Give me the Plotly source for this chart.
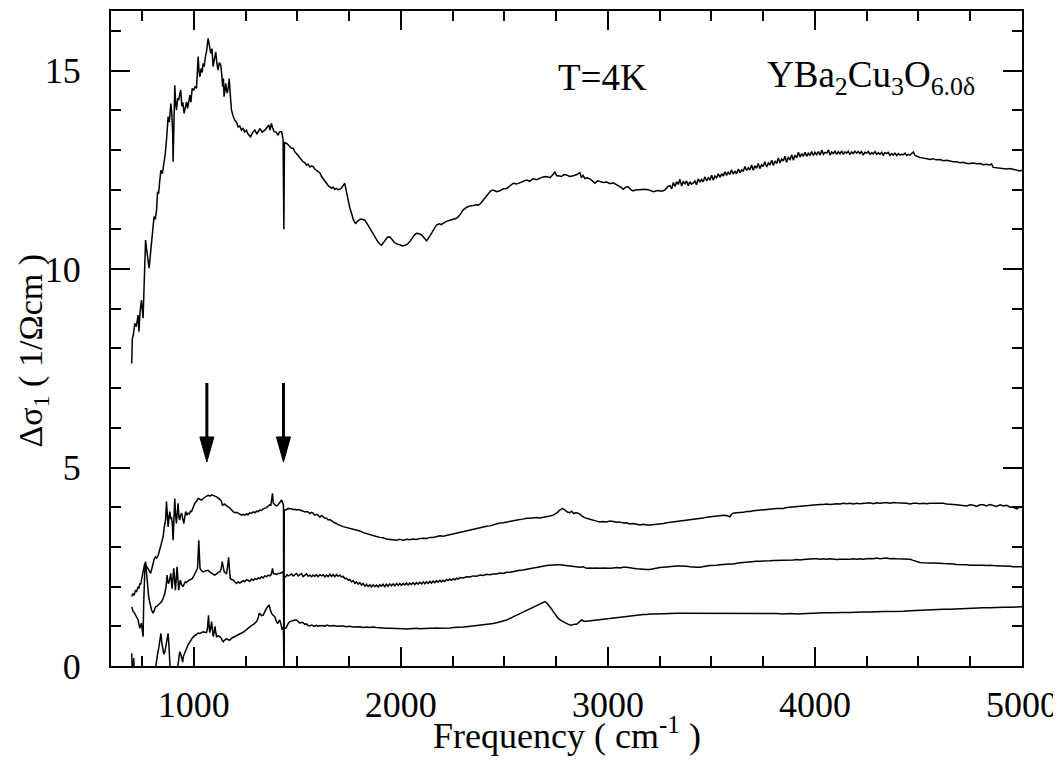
import plotly.graph_objects as go

# ---------------- data (frequency cm^-1, delta sigma_1 1/Ohm cm) ----------------
top_pts = [
(700,7.62),(703,8.25),(708,8.35),(715,8.63),(722,8.55),(731,8.84),(735,8.42),(740,8.9),(747,9.22),(751,9.0),
(755,8.76),(760,9.6),(767,10.73),(772,10.5),(776,10.31),(780,10.2),(784,10.02),(790,10.35),(796,10.65),(802,10.9),
(808,11.32),(814,11.25),(820,11.49),(825,11.95),(830,11.9),(835,12.2),(841,12.49),(848,12.4),(857,12.66),(862,12.9),
(868,13.25),(872,13.5),(876,13.84),(882,13.7),(889,14.17),(894,13.9),(898,13.4),(900,12.7),(903,13.6),(908,14.63),
(912,14.2),(916,14.0),(922,14.3),(928,14.26),(932,14.4),(937,14.51),(942,14.1),(947,14.2),(953,13.92),(959,14.1),
(965,14.21),(970,14.05),(976,14.3),(981,14.38),(986,14.2),(992,14.55),(1000,14.5),(1006,14.6),(1013,14.55),(1018,14.9),
(1021,15.35),(1025,15.0),(1029,14.84),(1035,15.05),(1040,14.95),(1045,15.18),(1050,15.1),(1056,15.35),(1062,15.5),(1069,15.81),
(1075,15.6),(1082,15.43),(1088,15.55),(1093,15.1),(1100,15.3),(1106,15.47),(1111,15.2),(1117,15.01),(1123,15.2),(1130,15.14),
(1135,14.9),(1139,14.59),(1143,14.8),(1146,14.34),(1150,14.5),(1154,14.68),(1158,14.5),(1162,14.43),(1167,14.6),(1171,14.8),
(1176,14.4),(1182,14.0),(1190,13.85),(1198,13.75),(1206,13.7),(1214,13.58),(1222,13.6),(1230,13.5),(1238,13.54),(1246,13.45),
(1254,13.5),(1262,13.4),(1274,13.33),(1285,13.45),(1295,13.5),(1305,13.4),(1319,13.54),(1330,13.45),(1343,13.5),(1352,13.55),
(1362,13.63),(1368,13.5),(1375,13.67),(1381,13.55),(1388,13.46),(1397,13.45),(1407,13.38),(1415,13.46),(1424,13.46),(1431,13.28),
(1435,11.0),(1438,13.2),(1443,13.17),(1448,13.17),(1456,13.13),(1464,13.1),(1472,13.04),(1480,13.04),(1488,12.95),(1496,12.91),
(1504,12.85),(1512,12.79),(1520,12.75),(1528,12.7),(1536,12.68),(1544,12.62),(1552,12.64),(1560,12.57),(1568,12.6),(1576,12.58),
(1584,12.52),(1593,12.49),(1600,12.45),(1609,12.42),(1617,12.33),(1625,12.28),(1633,12.22),(1641,12.16),(1649,12.1),(1657,12.06),
(1665,12.04),(1673,12.06),(1681,12.01),(1689,12.03),(1697,12.0),(1705,12.01),(1713,12.04),(1721,12.1),(1729,12.16),(1737,11.95),
(1745,11.74),(1753,11.55),(1762,11.4),(1770,11.25),(1778,11.17),(1783,11.15),(1790,11.2),(1796,11.24),(1802,11.25),(1810,11.26),
(1818,11.24),(1826,11.23),(1834,11.17),(1842,11.1),(1850,11.02),(1858,10.95),(1866,10.87),(1874,10.81),(1882,10.74),(1890,10.68),
(1898,10.63),(1907,10.6),(1915,10.66),(1925,10.74),(1935,10.8),(1947,10.81),(1957,10.74),(1967,10.68),(1977,10.64),(1987,10.63),
(2000,10.6),(2010,10.58),(2019,10.59),(2030,10.62),(2043,10.69),(2055,10.78),(2066,10.86),(2076,10.9),(2088,10.89),(2100,10.86),
(2112,10.78),(2124,10.71),(2136,10.8),(2148,10.9),(2160,11.0),(2172,11.11),(2185,11.14),(2195,11.12),(2204,11.15),(2220,11.2),
(2237,11.23),(2252,11.25),(2269,11.28),(2285,11.36),(2301,11.49),(2317,11.55),(2333,11.59),(2350,11.6),(2366,11.62),(2374,11.61),
(2385,11.65),(2398,11.74),(2410,11.82),(2422,11.91),(2434,11.97),(2446,11.99),(2462,11.95),(2478,11.97),(2495,12.02),(2511,12.03),
(2527,12.1),(2543,12.16),(2559,12.14),(2575,12.17),(2591,12.22),(2607,12.24),(2623,12.21),(2639,12.28),(2655,12.25),(2671,12.28),
(2687,12.32),(2704,12.33),(2720,12.3),(2735,12.38),(2744,12.45),(2752,12.35),(2760,12.35),(2775,12.33),(2788,12.38),(2800,12.37),
(2815,12.33),(2833,12.35),(2850,12.38),(2865,12.43),(2872,12.3),(2880,12.36),(2889,12.28),(2900,12.3),(2913,12.27),(2925,12.22),
(2937,12.16),(2950,12.22),(2961,12.2),(2978,12.18),(2994,12.19),(3010,12.15),(3026,12.17),(3042,12.12),(3058,12.09),(3066,12.05),
(3074,12.01),(3086,12.06),(3098,12.07),(3110,12.0),(3122,11.97),(3138,12.0),(3155,12.0),(3175,12.01),(3195,12.0),(3219,11.95),
(3240,11.98),(3260,11.96),(3275,11.99),(3290,12.08),(3300,12.1),(3308,12.02),(3316,12.18),(3324,12.08),(3332,12.2),(3340,12.13),
(3348,12.26),(3356,12.09),(3364,12.2),(3372,12.15),(3380,12.22),(3388,12.1),(3396,12.2),(3404,12.14),(3412,12.17),(3420,12.22),
(3428,12.12),(3436,12.27),(3444,12.19),(3452,12.26),(3460,12.2),(3468,12.32),(3477,12.22),(3485,12.3),(3493,12.25),(3501,12.36),
(3509,12.24),(3517,12.34),(3525,12.3),(3533,12.4),(3541,12.31),(3549,12.4),(3557,12.34),(3565,12.45),(3573,12.36),(3581,12.44),
(3589,12.38),(3597,12.5),(3605,12.39),(3613,12.47),(3621,12.4),(3630,12.52),(3638,12.42),(3646,12.5),(3654,12.47),(3662,12.58),
(3670,12.48),(3678,12.55),(3686,12.5),(3694,12.62),(3702,12.49),(3710,12.6),(3718,12.54),(3726,12.66),(3734,12.53),(3742,12.63),
(3750,12.58),(3758,12.7),(3767,12.57),(3775,12.67),(3783,12.62),(3791,12.74),(3799,12.61),(3807,12.72),(3815,12.66),(3823,12.8),
(3831,12.67),(3839,12.77),(3847,12.72),(3855,12.84),(3863,12.69),(3871,12.81),(3880,12.76),(3888,12.88),(3896,12.74),(3904,12.87),
(3912,12.8),(3920,12.94),(3928,12.82),(3936,12.91),(3944,12.84),(3952,12.94),(3960,12.84),(3968,12.92),(3976,12.86),(3984,12.96),
(3992,12.86),(4000,12.94),(4008,12.88),(4016,12.96),(4025,12.87),(4033,12.99),(4041,12.89),(4049,12.94),(4057,12.92),(4065,13.0),
(4073,12.87),(4081,12.95),(4089,12.91),(4097,12.97),(4105,12.89),(4113,12.96),(4121,12.9),(4129,12.98),(4137,12.89),(4145,12.95),
(4153,12.92),(4161,12.97),(4169,12.88),(4177,12.95),(4185,12.91),(4193,12.97),(4201,12.92),(4209,12.96),(4217,12.91),(4225,12.96),
(4233,12.87),(4241,12.94),(4250,12.92),(4258,12.96),(4266,12.89),(4274,12.93),(4282,12.9),(4290,12.96),(4298,12.89),(4306,12.93),
(4314,12.89),(4322,12.94),(4330,12.87),(4338,12.93),(4346,12.91),(4354,12.94),(4362,12.86),(4370,12.91),(4378,12.87),(4386,12.92),
(4395,12.86),(4403,12.91),(4411,12.87),(4419,12.89),(4427,12.88),(4435,12.92),(4443,12.86),(4451,12.89),(4459,12.87),(4467,12.9),
(4475,12.95),(4483,12.86),(4491,12.84),(4507,12.81),(4520,12.8),(4535,12.78),(4556,12.76),(4570,12.78),(4585,12.75),(4604,12.76),
(4620,12.73),(4636,12.74),(4652,12.72),(4668,12.7),(4684,12.7),(4700,12.68),(4716,12.69),(4733,12.66),(4749,12.66),(4765,12.67),
(4781,12.65),(4797,12.66),(4813,12.63),(4829,12.64),(4845,12.62),(4853,12.65),(4861,12.56),(4877,12.55),(4893,12.54),(4910,12.54),
(4926,12.52),(4942,12.53),(4958,12.51),(4974,12.5),(4990,12.47),(5000,12.49),
]

upper_pts = [
(700,1.75),(704,1.8),(707,1.83),(712,1.78),(718,1.91),(724,1.88),(731,2.0),(735,1.95),(739,2.08),(743,2.05),
(747,2.16),(751,2.3),(755,2.41),(759,2.5),(763,2.59),(767,2.55),(771,2.5),(775,2.48),(779,2.46),(785,2.4),
(791,2.33),(797,2.45),(803,2.59),(809,2.7),(815,2.75),(821,2.72),(828,2.79),(834,2.9),(841,3.05),(846,3.15),
(852,3.26),(856,3.45),(860,3.59),(864,3.7),(868,4.14),(872,3.6),(876,3.5),(880,3.75),(884,3.89),(888,3.7),
(892,3.76),(896,3.6),(900,3.17),(904,3.7),(908,4.22),(912,3.8),(916,3.59),(920,3.85),(924,4.1),(928,3.75),
(932,3.68),(936,3.8),(941,3.85),(946,3.72),(952,3.59),(956,3.75),(961,3.89),(966,3.8),(972,3.85),(978,3.83),
(984,3.9),(989,3.89),(995,3.98),(1000,4.05),(1005,4.1),(1013,4.15),(1021,4.22),(1029,4.2),(1037,4.18),(1045,4.22),
(1053,4.26),(1062,4.28),(1070,4.3),(1078,4.28),(1086,4.31),(1094,4.3),(1102,4.28),(1110,4.26),(1118,4.24),(1126,4.2),
(1134,4.14),(1138,4.05),(1142,4.06),(1148,4.08),(1154,4.05),(1160,4.02),(1166,4.01),(1174,3.98),(1182,3.92),(1190,3.89),
(1198,3.86),(1206,3.87),(1214,3.85),(1222,3.82),(1230,3.8),(1238,3.82),(1246,3.8),(1254,3.83),(1262,3.81),(1270,3.86),
(1279,3.85),(1287,3.88),(1295,3.86),(1303,3.9),(1311,3.89),(1319,3.93),(1327,3.92),(1335,3.96),(1343,3.97),(1351,3.99),
(1359,4.03),(1367,4.06),(1372,4.05),(1376,4.2),(1380,4.35),(1384,4.1),(1391,4.06),(1399,4.03),(1407,4.06),(1413,4.1),
(1418,4.15),(1424,4.18),(1430,4.1),(1433,4.05),(1435,0.0),(1437,3.93),(1444,3.93),(1450,3.95),(1456,3.97),(1464,3.96),
(1472,3.96),(1480,3.94),(1488,3.95),(1496,3.93),(1504,3.94),(1512,3.93),(1520,3.92),(1528,3.9),(1536,3.88),(1544,3.89),
(1552,3.88),(1560,3.84),(1568,3.87),(1576,3.85),(1584,3.8),(1592,3.82),(1600,3.8),(1609,3.75),(1617,3.79),(1625,3.76),
(1633,3.72),(1641,3.72),(1649,3.68),(1657,3.69),(1665,3.65),(1673,3.63),(1681,3.6),(1689,3.59),(1697,3.56),(1705,3.55),
(1713,3.53),(1721,3.51),(1737,3.49),(1753,3.47),(1770,3.45),(1786,3.43),(1802,3.4),(1818,3.36),(1834,3.33),(1850,3.3),
(1866,3.28),(1882,3.26),(1898,3.24),(1914,3.23),(1930,3.2),(1947,3.19),(1963,3.18),(1979,3.17),(1995,3.19),(2011,3.17),
(2027,3.19),(2043,3.18),(2059,3.2),(2075,3.19),(2091,3.21),(2108,3.22),(2124,3.21),(2140,3.24),(2156,3.24),(2172,3.26),
(2188,3.28),(2204,3.27),(2220,3.29),(2237,3.3),(2253,3.33),(2269,3.34),(2285,3.36),(2301,3.38),(2317,3.4),(2333,3.43),
(2350,3.45),(2366,3.47),(2382,3.49),(2398,3.5),(2414,3.52),(2430,3.53),(2446,3.56),(2462,3.57),(2478,3.6),(2494,3.61),
(2511,3.63),(2527,3.65),(2543,3.66),(2559,3.68),(2575,3.69),(2591,3.7),(2607,3.72),(2623,3.72),(2639,3.73),(2655,3.74),
(2671,3.73),(2687,3.74),(2704,3.76),(2720,3.78),(2736,3.8),(2752,3.85),(2766,3.92),(2781,3.97),(2792,3.93),(2804,3.88),
(2816,3.86),(2825,3.9),(2835,3.84),(2845,3.86),(2857,3.85),(2870,3.8),(2883,3.75),(2897,3.72),(2913,3.69),(2929,3.66),
(2945,3.65),(2961,3.63),(2977,3.64),(2994,3.63),(3010,3.65),(3026,3.64),(3042,3.62),(3058,3.63),(3074,3.6),(3090,3.61),
(3106,3.58),(3122,3.59),(3139,3.57),(3155,3.55),(3171,3.57),(3187,3.55),(3203,3.55),(3219,3.56),(3235,3.56),(3251,3.57),
(3268,3.59),(3284,3.61),(3300,3.62),(3316,3.63),(3332,3.64),(3348,3.65),(3364,3.66),(3380,3.67),(3396,3.69),(3412,3.7),
(3428,3.71),(3444,3.72),(3460,3.73),(3477,3.75),(3493,3.76),(3509,3.77),(3525,3.78),(3541,3.79),(3557,3.8),(3573,3.79),
(3589,3.76),(3597,3.82),(3605,3.85),(3621,3.86),(3638,3.86),(3654,3.87),(3670,3.89),(3686,3.89),(3702,3.91),(3718,3.92),
(3734,3.93),(3751,3.94),(3767,3.95),(3783,3.95),(3799,3.96),(3815,3.97),(3831,3.97),(3847,3.97),(3863,3.99),(3880,4.0),
(3896,4.01),(3912,4.02),(3928,4.03),(3944,4.04),(3960,4.04),(3976,4.05),(3992,4.05),(4008,4.06),(4024,4.07),(4040,4.07),
(4056,4.08),(4072,4.07),(4088,4.08),(4105,4.09),(4121,4.08),(4137,4.1),(4153,4.09),(4169,4.1),(4185,4.08),(4201,4.1),
(4217,4.09),(4233,4.1),(4250,4.1),(4266,4.11),(4282,4.09),(4298,4.11),(4314,4.1),(4330,4.11),(4346,4.12),(4362,4.1),
(4378,4.12),(4395,4.11),(4411,4.11),(4427,4.1),(4443,4.1),(4459,4.08),(4475,4.1),(4491,4.1),(4507,4.09),(4523,4.1),
(4540,4.09),(4556,4.1),(4572,4.1),(4588,4.09),(4604,4.09),(4620,4.1),(4636,4.08),(4652,4.08),(4668,4.07),(4684,4.06),
(4700,4.05),(4716,4.04),(4733,4.03),(4749,4.06),(4765,4.05),(4781,4.02),(4797,4.06),(4813,4.06),(4829,4.03),(4845,4.07),
(4861,4.05),(4877,4.02),(4894,4.06),(4910,4.03),(4926,4.05),(4942,4.0),(4958,4.0),(4974,3.96),(4990,4.01),(5000,4.0),
]

middle_pts = [
(700,1.49),(703,1.4),(707,1.37),(712,1.35),(718,1.28),(724,1.25),(731,1.16),(735,1.05),(739,0.95),(743,1.02),
(747,1.08),(751,0.9),(755,0.74),(758,1.6),(760,2.25),(764,2.5),(767,2.63),(770,2.4),(772,2.25),(776,2.05),
(779,1.91),(783,1.7),(787,1.58),(791,1.5),(796,1.41),(800,1.36),(803,1.33),(809,1.4),(815,1.49),(821,1.5),
(828,1.54),(836,1.58),(844,1.62),(852,1.7),(860,1.83),(866,2.0),(871,2.29),(875,2.1),(879,2.08),(884,2.2),
(889,2.33),(892,2.1),(895,1.95),(899,2.2),(903,2.46),(907,2.2),(911,1.91),(915,2.2),(919,2.5),(923,2.2),
(927,1.91),(931,2.05),(935,2.16),(941,2.05),(948,2.0),(953,2.06),(959,2.12),(965,2.1),(970,2.14),(976,2.16),
(984,2.18),(992,2.2),(998,2.25),(1005,2.33),(1011,2.4),(1018,2.46),(1021,2.8),(1024,3.17),(1027,2.8),(1030,2.46),
(1037,2.4),(1045,2.37),(1053,2.39),(1061,2.4),(1069,2.41),(1077,2.37),(1085,2.35),(1093,2.32),(1101,2.29),(1110,2.32),
(1118,2.36),(1126,2.37),(1132,2.45),(1137,2.63),(1142,2.45),(1147,2.37),(1152,2.35),(1158,2.33),(1163,2.5),(1168,2.74),
(1172,2.45),(1176,2.2),(1183,2.18),(1190,2.17),(1198,2.12),(1206,2.08),(1214,2.12),(1222,2.09),(1230,2.12),(1238,2.15),
(1246,2.12),(1254,2.17),(1262,2.16),(1270,2.13),(1279,2.19),(1287,2.16),(1295,2.2),(1303,2.18),(1311,2.22),(1319,2.2),
(1327,2.25),(1335,2.22),(1343,2.27),(1351,2.25),(1359,2.29),(1367,2.27),(1374,2.3),(1380,2.46),(1385,2.32),(1391,2.33),
(1399,2.3),(1407,2.33),(1415,2.33),(1423,2.35),(1431,2.37),(1433,2.3),(1435,0.0),(1437,2.25),(1444,2.25),(1450,2.3),
(1456,2.27),(1464,2.29),(1472,2.32),(1480,2.27),(1488,2.31),(1496,2.33),(1504,2.27),(1512,2.29),(1520,2.33),(1528,2.25),
(1536,2.28),(1544,2.32),(1552,2.26),(1560,2.29),(1568,2.25),(1576,2.29),(1584,2.26),(1592,2.3),(1600,2.25),(1609,2.3),
(1617,2.27),(1625,2.3),(1633,2.24),(1641,2.29),(1649,2.25),(1657,2.31),(1665,2.26),(1673,2.3),(1681,2.25),(1689,2.3),
(1697,2.26),(1705,2.29),(1713,2.24),(1721,2.26),(1730,2.2),(1738,2.21),(1746,2.16),(1754,2.18),(1762,2.12),(1770,2.15),
(1778,2.08),(1786,2.12),(1794,2.06),(1802,2.1),(1810,2.04),(1818,2.08),(1826,2.01),(1834,2.06),(1842,2.0),(1850,2.05),
(1858,1.99),(1866,2.05),(1874,2.0),(1882,2.04),(1890,1.99),(1898,2.05),(1906,2.01),(1914,2.06),(1922,2.0),(1930,2.06),
(1938,2.01),(1947,2.07),(1955,2.02),(1963,2.07),(1971,2.02),(1979,2.08),(1987,2.03),(1995,2.08),(2003,2.03),(2011,2.08),
(2019,2.04),(2027,2.09),(2035,2.04),(2043,2.09),(2051,2.05),(2059,2.1),(2067,2.05),(2075,2.1),(2083,2.06),(2091,2.11),
(2100,2.07),(2108,2.12),(2116,2.07),(2124,2.12),(2132,2.08),(2140,2.13),(2148,2.09),(2156,2.14),(2164,2.1),(2172,2.15),
(2180,2.11),(2188,2.16),(2196,2.12),(2204,2.16),(2212,2.13),(2220,2.18),(2228,2.15),(2237,2.19),(2245,2.16),(2253,2.2),
(2261,2.17),(2269,2.21),(2277,2.19),(2285,2.23),(2301,2.22),(2317,2.25),(2333,2.24),(2350,2.27),(2366,2.26),(2382,2.29),
(2398,2.28),(2414,2.31),(2430,2.3),(2446,2.32),(2462,2.32),(2478,2.34),(2494,2.33),(2511,2.36),(2527,2.36),(2543,2.38),
(2559,2.39),(2575,2.41),(2591,2.42),(2607,2.44),(2623,2.45),(2639,2.47),(2655,2.48),(2671,2.5),(2687,2.52),(2704,2.53),
(2720,2.54),(2736,2.55),(2752,2.55),(2768,2.55),(2784,2.54),(2800,2.53),(2816,2.52),(2833,2.51),(2849,2.5),(2865,2.49),
(2881,2.5),(2897,2.46),(2913,2.47),(2929,2.46),(2945,2.47),(2961,2.46),(2977,2.47),(2994,2.46),(3010,2.46),(3026,2.47),
(3042,2.48),(3058,2.47),(3074,2.49),(3090,2.49),(3106,2.47),(3122,2.46),(3139,2.45),(3155,2.44),(3171,2.44),(3187,2.43),
(3203,2.43),(3219,2.45),(3235,2.47),(3251,2.48),(3268,2.49),(3284,2.5),(3300,2.51),(3316,2.51),(3332,2.52),(3348,2.52),
(3364,2.52),(3380,2.51),(3396,2.5),(3412,2.49),(3428,2.49),(3444,2.49),(3460,2.51),(3477,2.52),(3493,2.53),(3509,2.53),
(3525,2.54),(3541,2.55),(3557,2.56),(3573,2.57),(3589,2.57),(3605,2.57),(3621,2.59),(3638,2.6),(3654,2.61),(3670,2.62),
(3686,2.63),(3702,2.63),(3718,2.64),(3734,2.64),(3751,2.64),(3767,2.64),(3783,2.65),(3799,2.66),(3815,2.66),(3831,2.67),
(3847,2.67),(3863,2.67),(3880,2.67),(3896,2.67),(3912,2.68),(3928,2.67),(3944,2.68),(3960,2.69),(3976,2.69),(3992,2.7),
(4008,2.7),(4024,2.69),(4040,2.7),(4056,2.69),(4072,2.7),(4088,2.69),(4105,2.68),(4121,2.69),(4137,2.69),(4153,2.68),
(4169,2.69),(4185,2.7),(4201,2.69),(4217,2.7),(4233,2.69),(4250,2.7),(4266,2.71),(4282,2.7),(4298,2.72),(4314,2.7),
(4330,2.71),(4346,2.72),(4362,2.7),(4378,2.71),(4395,2.7),(4411,2.7),(4427,2.69),(4443,2.69),(4459,2.69),(4475,2.66),
(4491,2.63),(4507,2.61),(4523,2.6),(4540,2.6),(4556,2.6),(4572,2.59),(4588,2.59),(4604,2.59),(4620,2.58),(4636,2.58),
(4652,2.57),(4668,2.57),(4684,2.56),(4700,2.56),(4716,2.55),(4733,2.55),(4749,2.54),(4765,2.54),(4781,2.55),(4797,2.54),
(4813,2.54),(4829,2.53),(4845,2.54),(4861,2.53),(4877,2.52),(4894,2.52),(4910,2.52),(4926,2.52),(4942,2.51),(4958,2.5),
(4974,2.5),(4990,2.5),(5000,2.5),
]

lower_pts = [
(700,0.32),(702,-0.3),(705,-0.6),(708,0.05),(710,0.2),(713,-0.4),(716,-0.8),(740,-0.7),(770,-0.8),(800,-0.6),
(812,-0.1),(818,0.15),(825,0.3),(832,0.5),(838,0.7),(841,0.82),(845,0.6),(850,0.42),(855,0.3),(860,0.35),
(865,0.5),(870,0.7),(876,0.82),(880,0.5),(884,0.1),(888,-0.3),(900,-0.6),(915,-0.4),(922,-0.05),(927,0.2),
(932,0.36),(937,0.3),(942,0.15),(946,0.1),(950,0.25),(955,0.32),(960,0.4),(966,0.46),(972,0.53),(978,0.58),
(985,0.65),(992,0.7),(999,0.74),(1006,0.77),(1013,0.8),(1021,0.83),(1029,0.82),(1037,0.84),(1045,0.86),(1053,0.85),
(1061,0.84),(1066,0.95),(1071,1.28),(1074,1.0),(1077,0.84),(1081,0.95),(1086,1.12),(1090,0.9),(1094,0.74),(1098,0.85),
(1102,1.0),(1106,0.85),(1110,0.74),(1118,0.76),(1126,0.74),(1134,0.68),(1142,0.61),(1150,0.66),(1158,0.69),(1166,0.66),
(1174,0.65),(1182,0.7),(1190,0.72),(1198,0.74),(1206,0.75),(1214,0.77),(1222,0.8),(1230,0.82),(1238,0.85),(1246,0.88),
(1254,0.92),(1262,0.95),(1270,0.98),(1279,1.02),(1287,1.04),(1295,1.07),(1303,1.12),(1310,1.2),(1316,1.33),(1322,1.3),
(1328,1.27),(1335,1.28),(1341,1.33),(1346,1.4),(1351,1.45),(1357,1.5),(1364,1.54),(1368,1.45),(1372,1.36),(1375,1.33),
(1383,1.28),(1391,1.24),(1397,1.15),(1404,1.07),(1410,1.12),(1415,1.16),(1421,1.05),(1427,0.91),(1431,0.98),(1433,0.9),
(1435,0.0),(1437,0.95),(1444,0.95),(1450,1.02),(1457,1.08),(1464,1.12),(1472,1.14),(1480,1.15),(1488,1.16),(1496,1.16),
(1504,1.12),(1512,1.08),(1520,1.1),(1528,1.09),(1536,1.05),(1544,1.06),(1552,1.02),(1560,1.01),(1568,1.03),(1576,1.01),
(1584,1.0),(1592,1.03),(1600,1.0),(1609,1.02),(1617,1.01),(1625,1.02),(1633,1.0),(1641,1.03),(1657,1.01),(1673,1.02),
(1689,1.0),(1705,1.01),(1721,1.01),(1737,0.99),(1753,1.0),(1770,0.98),(1786,0.99),(1802,0.99),(1818,0.97),(1834,0.98),
(1850,0.97),(1866,0.98),(1882,0.97),(1898,0.96),(1914,0.96),(1930,0.95),(1947,0.95),(1963,0.95),(1979,0.94),(1995,0.94),
(2011,0.94),(2027,0.93),(2043,0.94),(2059,0.94),(2075,0.95),(2091,0.94),(2108,0.95),(2124,0.95),(2140,0.95),(2156,0.95),
(2172,0.96),(2188,0.95),(2204,0.95),(2220,0.96),(2237,0.96),(2253,0.97),(2269,0.97),(2285,0.97),(2301,0.98),(2317,0.99),
(2333,1.0),(2350,1.0),(2366,1.01),(2382,1.02),(2398,1.03),(2414,1.05),(2430,1.06),(2446,1.07),(2462,1.09),(2478,1.11),
(2494,1.13),(2511,1.16),(2527,1.2),(2543,1.24),(2559,1.28),(2575,1.33),(2591,1.36),(2607,1.41),(2623,1.44),(2639,1.49),
(2656,1.54),(2666,1.55),(2676,1.58),(2686,1.6),(2696,1.62),(2706,1.58),(2716,1.52),(2726,1.45),(2736,1.37),(2748,1.28),
(2760,1.2),(2772,1.15),(2784,1.12),(2796,1.08),(2808,1.05),(2816,1.03),(2825,1.03),(2837,1.05),(2849,1.05),(2857,1.08),
(2865,1.12),(2873,1.16),(2881,1.14),(2889,1.12),(2897,1.13),(2913,1.14),(2929,1.15),(2945,1.16),(2961,1.17),(2977,1.18),
(2994,1.19),(3010,1.2),(3026,1.21),(3042,1.22),(3058,1.24),(3074,1.25),(3090,1.26),(3106,1.27),(3122,1.27),(3139,1.28),
(3155,1.29),(3171,1.3),(3187,1.3),(3203,1.31),(3235,1.31),(3268,1.32),(3300,1.32),(3332,1.33),(3364,1.33),(3396,1.33),
(3428,1.33),(3460,1.33),(3493,1.33),(3525,1.33),(3557,1.33),(3589,1.33),(3621,1.33),(3654,1.33),(3686,1.33),(3718,1.33),
(3751,1.32),(3783,1.32),(3815,1.32),(3847,1.31),(3880,1.32),(3912,1.31),(3944,1.32),(3976,1.32),(4008,1.33),(4040,1.34),
(4072,1.34),(4105,1.35),(4137,1.35),(4169,1.35),(4201,1.36),(4233,1.36),(4266,1.36),(4298,1.37),(4330,1.37),(4362,1.37),
(4395,1.37),(4427,1.38),(4459,1.39),(4491,1.4),(4523,1.4),(4556,1.41),(4588,1.42),(4620,1.43),(4652,1.43),(4684,1.44),
(4716,1.45),(4749,1.45),(4781,1.46),(4813,1.47),(4845,1.47),(4877,1.48),(4910,1.48),(4942,1.48),(4974,1.48),(5000,1.49),
]

# arrows marking features (frequency, arrow tail, arrow tip)
arrow_freqs = [1063, 1433]
arrow_tail = 7.13
arrow_tip = 5.14

x_ticks = [1000, 2000, 3000, 4000, 5000]
y_ticks = [0, 5, 10, 15]

FONT = "Liberation Serif, Times New Roman, Times, DejaVu Serif, serif"

fig = go.Figure()
for pts in (top_pts, upper_pts, middle_pts, lower_pts):
    xs, ys = zip(*pts)
    fig.add_trace(go.Scatter(x=list(xs), y=list(ys), mode="lines",
                             line=dict(color="black", width=1.5), showlegend=False,
                             hoverinfo="skip"))

# arrows: shaft + filled head (head size given in data units)
head_len = 0.63
head_half = 34
shapes = []
for fx in arrow_freqs:
    shapes.append(dict(type="line", xref="x", yref="y", x0=fx, x1=fx,
                       y0=arrow_tail, y1=arrow_tip + head_len * 0.9,
                       line=dict(color="black", width=3)))
    shapes.append(dict(type="path", xref="x", yref="y",
                       path=f"M {fx - head_half},{arrow_tip + head_len} L {fx + head_half},{arrow_tip + head_len} L {fx},{arrow_tip} Z",
                       fillcolor="black", line=dict(color="black", width=1)))

axis_common = dict(showline=True, linecolor="black", linewidth=2, mirror="ticks",
                   ticks="inside", ticklen=19, tickwidth=1.5, tickcolor="black",
                   showgrid=False, zeroline=False, automargin=False,
                   tickfont=dict(family=FONT, size=36, color="black"))

# the page body adds an 8px margin, so the figure is 8px smaller than the window
fig.update_layout(
    width=1053, height=767,
    margin=dict(l=103, r=39, t=3, b=109),
    paper_bgcolor="white", plot_bgcolor="white",
    font=dict(family=FONT, color="black"),
    shapes=shapes,
    xaxis=dict(range=[600, 5000], tickvals=x_ticks,
               ticktext=[str(v) for v in x_ticks],
               minor=dict(dtick=250, tick0=0, ticks="inside", ticklen=10, tickwidth=1.5, tickcolor="black"),
               ticklabelstandoff=6,
               **axis_common),
    yaxis=dict(range=[0, 16.5], tickvals=y_ticks,
               ticktext=[str(v) for v in y_ticks],
               minor=dict(dtick=1, tick0=0, ticks="inside", ticklen=10, tickwidth=1.5, tickcolor="black"),
               ticklabelstandoff=21,
               **axis_common),
    annotations=[
        dict(text="Frequency ( cm<sup>-1</sup> )", x=0.5, y=0, xref="paper", yref="paper",
             xanchor="center", yanchor="top", yshift=-43, showarrow=False,
             font=dict(family=FONT, size=36, color="black")),
        dict(text="Δσ<sub>1</sub> ( 1/Ωcm )", x=0, y=0.5, xref="paper", yref="paper",
             xanchor="center", yanchor="middle", xshift=-79, yshift=-12, textangle=-90,
             showarrow=False, font=dict(family=FONT, size=34, color="black")),
        dict(text="T=4K", x=2976, y=14.82, xref="x", yref="y", showarrow=False,
             font=dict(family=FONT, size=37, color="black")),
        dict(text="YBa<sub>2</sub>Cu<sub>3</sub>O<sub>6.0δ</sub>", x=3758, y=14.82, xref="x", yref="y",
             xanchor="left", showarrow=False, font=dict(family=FONT, size=37, color="black")),
    ],
)

fig.write_html("out.html")
